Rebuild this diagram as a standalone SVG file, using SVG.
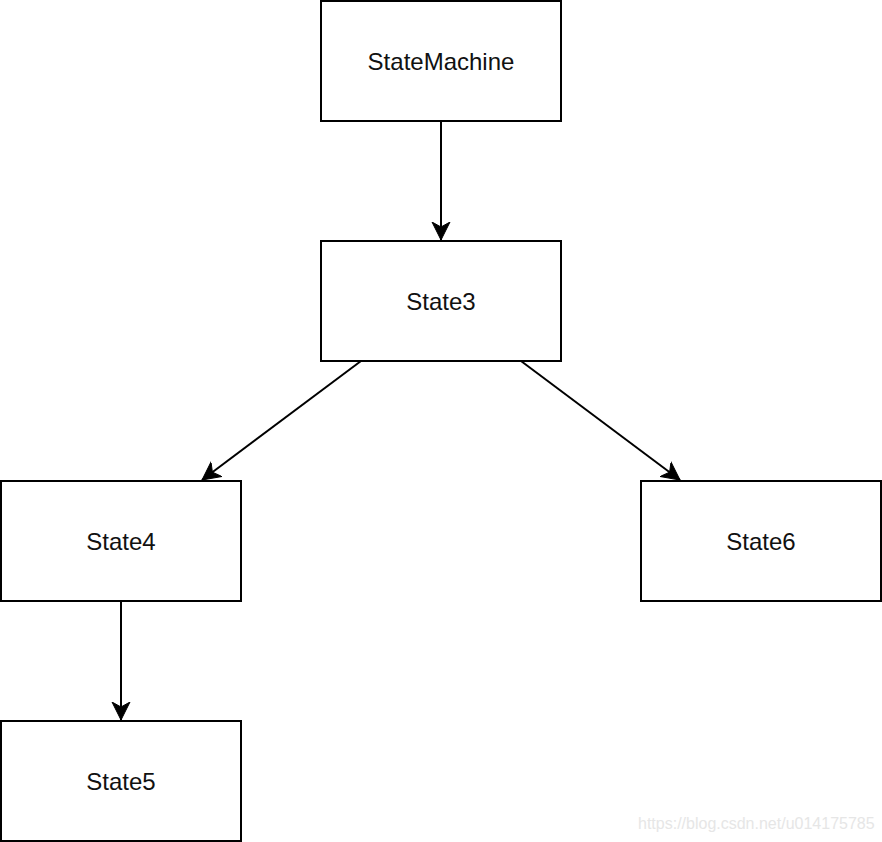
<svg xmlns="http://www.w3.org/2000/svg" width="882" height="842" viewBox="0 0 882 842">
<style>
.box{fill:#fff;stroke:#000;stroke-width:2}
.lbl{font-family:"Liberation Sans",Arial,sans-serif;font-size:24px;fill:#111;text-anchor:middle}
.edge{fill:none;stroke:#000;stroke-width:2}
.wm{font-family:"Liberation Sans",Arial,sans-serif;font-size:16px;fill:#e6e6e6}
</style>
<defs>
<marker id="arr" markerUnits="userSpaceOnUse" markerWidth="20" markerHeight="20" viewBox="-18 -10 20 20" refX="0" refY="0" orient="auto">
<path d="M0,0 L-18,-9 L-13,0 L-18,9 Z" fill="#000" stroke="#000" stroke-width="1"/>
</marker>
</defs>
<rect width="882" height="842" fill="#fff"/>
<g id="edges">
<path class="edge" d="M441,121 L441,240" marker-end="url(#arr)"/>
<path class="edge" d="M361,361 L202,480" marker-end="url(#arr)"/>
<path class="edge" d="M521,361 L680,480" marker-end="url(#arr)"/>
<path class="edge" d="M121,601 L121,720" marker-end="url(#arr)"/>
</g>
<g id="StateMachine"><rect class="box" x="321" y="1" width="240" height="120"/><text class="lbl" x="441" y="70">StateMachine</text></g>
<g id="State3"><rect class="box" x="321" y="241" width="240" height="120"/><text class="lbl" x="441" y="310">State3</text></g>
<g id="State4"><rect class="box" x="1" y="481" width="240" height="120"/><text class="lbl" x="121" y="550">State4</text></g>
<g id="State6"><rect class="box" x="641" y="481" width="240" height="120"/><text class="lbl" x="761" y="550">State6</text></g>
<g id="State5"><rect class="box" x="1" y="721" width="240" height="120"/><text class="lbl" x="121" y="790">State5</text></g>
<text class="wm" x="638" y="829">https://blog.csdn.net/u014175785</text>
</svg>
